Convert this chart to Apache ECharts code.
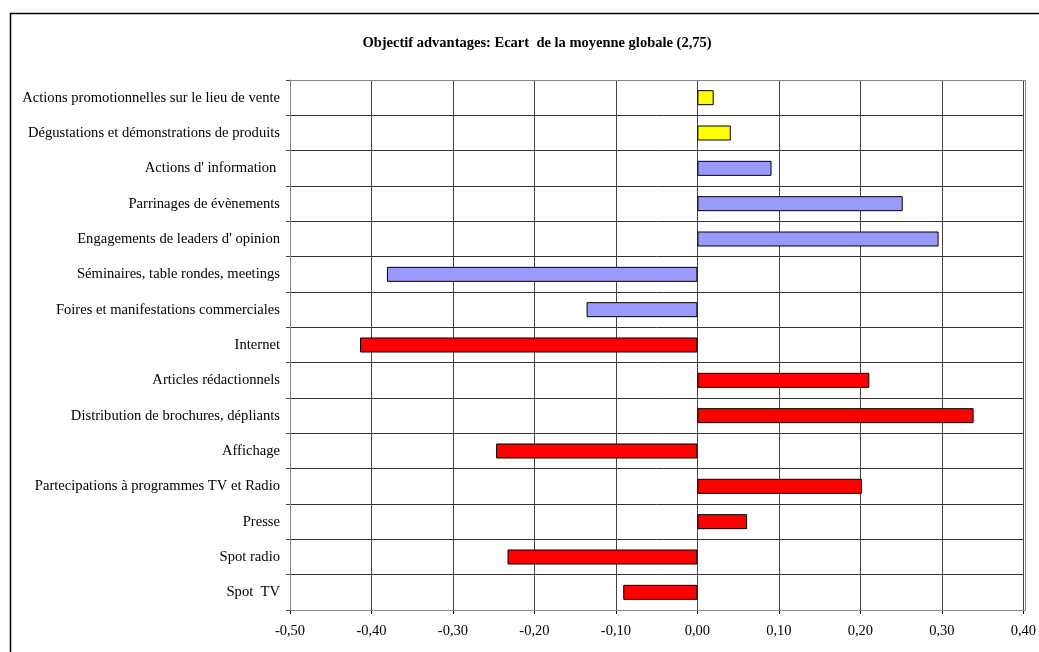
<!DOCTYPE html>
<html>
<head>
<meta charset="utf-8">
<script src="https://cdn.jsdelivr.net/npm/echarts@6/dist/echarts.min.js"></script>
<style>
  html, body { margin: 0; padding: 0; background: #fff; }
  #chart { width: 1039px; height: 652px; }
</style>
</head>
<body>
<div id="chart"></div>
<script>
// categories top to bottom
var categories = [
  'Actions promotionnelles sur le lieu de vente',
  'Dégustations et démonstrations de produits',
  "Actions d' information ",
  'Parrinages de évènements',
  "Engagements de leaders d' opinion",
  'Séminaires, table rondes, meetings',
  'Foires et manifestations commerciales',
  'Internet',
  'Articles rédactionnels',
  'Distribution de brochures, dépliants',
  'Affichage',
  'Partecipations à programmes TV et Radio',
  'Presse',
  'Spot radio',
  'Spot  TV'
];
var values = [0.020, 0.041, 0.091, 0.252, 0.296, -0.381, -0.136, -0.414, 0.211, 0.339, -0.247, 0.202, 0.061, -0.233, -0.091];
// 0 = yellow, 1 = lavender, 2 = red
var groups = [0, 0, 1, 1, 1, 1, 1, 2, 2, 2, 2, 2, 2, 2, 2];
var groupColors = ['#FFFF00', '#9999FF', '#FF0000'];
var xTicks = [-0.5, 0.4, 0.1];  // min, max, step

var chart = echarts.init(document.getElementById('chart'));

var barData = values.map(function (v, i) {
  return { value: v, itemStyle: { color: groupColors[groups[i]] } };
});

var serif = '"Liberation Serif", "DejaVu Serif", serif';

chart.setOption({
  animation: false,
  backgroundColor: '#fff',
  title: {
    text: 'Objectif advantages: Ecart  de la moyenne globale (2,75)',
    left: 532, top: 31, textAlign: 'center',
    textStyle: { fontFamily: serif, fontSize: 14.5, fontWeight: 'bold', color: '#000' }
  },
  graphic: [{
    type: 'rect', silent: true, z: -1,
    shape: { x: 10.5, y: 13.5, width: 1040, height: 660 },
    style: { fill: 'none', stroke: '#000', lineWidth: 1.5 }
  }, {
    type: 'rect', silent: true, z: 10,
    shape: { x: 290.5, y: 80.5, width: 735, height: 530 },
    style: { fill: 'none', stroke: '#888', lineWidth: 1 }
  }],
  grid: { left: 290, right: 13, top: 80, height: 530 },
  xAxis: {
    type: 'value', min: xTicks[0], max: xTicks[1], interval: xTicks[2],
    axisLine: { show: true, lineStyle: { color: '#000', width: 1 } },
    axisTick: { show: true, length: 4, lineStyle: { color: '#000' } },
    axisLabel: {
      fontFamily: serif, fontSize: 14.5, color: '#000', margin: 14,
      formatter: function (v) { return v.toFixed(2).replace('.', ','); }
    },
    splitLine: { show: true, lineStyle: { color: '#444', width: 1 } }
  },
  yAxis: {
    type: 'category', data: categories, inverse: true,
    axisLine: { show: true, onZero: false, lineStyle: { color: '#888' } },
    axisTick: { show: true, length: 4, lineStyle: { color: '#444' } },
    axisLabel: { fontFamily: serif, fontSize: 14.6, color: '#000', margin: 10 },
    splitLine: { show: true, lineStyle: { color: '#333', width: 1 } }
  },
  series: [{
    type: 'bar',
    data: barData,
    barWidth: 15,
    itemStyle: { borderColor: '#000', borderWidth: 1 }
  }]
});
</script>
</body>
</html>
